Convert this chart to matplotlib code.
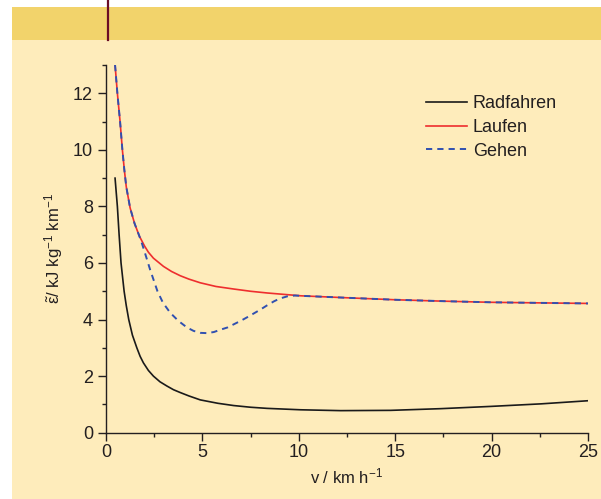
import matplotlib
matplotlib.use("Agg")
import matplotlib.pyplot as plt
from matplotlib.patches import Rectangle
from matplotlib.lines import Line2D
from matplotlib.ticker import MultipleLocator

# ---- data ----
v_rad = [0.47, 0.53, 0.59, 0.68, 0.78, 0.94, 1.05, 1.18, 1.37, 1.6, 1.77, 1.94,
         2.2, 2.46, 2.8, 3.16, 3.5, 3.85, 4.3, 4.89, 5.8, 6.62, 7.5, 8.36, 10.1,
         12.17, 14.77, 17.37, 19.97, 22.57, 25.0]
e_rad = [9.0, 8.5, 8.0, 7.0, 6.0, 5.0, 4.5, 4.0, 3.45, 3.0, 2.7, 2.47,
         2.2, 2.0, 1.8, 1.65, 1.52, 1.42, 1.3, 1.16, 1.04, 0.96, 0.9, 0.86, 0.81,
         0.78, 0.79, 0.85, 0.93, 1.02, 1.13]

v_lauf = [0.47, 0.53, 0.59, 0.66, 0.73, 0.79, 0.85, 0.95, 1.05, 1.25, 1.48,
          1.73, 2.0, 2.2, 2.46, 2.98, 3.4, 3.85, 4.3, 4.89, 5.7, 6.62, 7.5, 8.36,
          10.1, 12.5, 15.0, 17.5, 20.0, 22.5, 25.0]
e_lauf = [13.0, 12.5, 12.0, 11.5, 11.0, 10.5, 10.0, 9.3, 8.7, 7.95, 7.4,
          6.95, 6.6, 6.38, 6.17, 5.88, 5.7, 5.55, 5.43, 5.3, 5.17, 5.08, 5.0, 4.94,
          4.84, 4.77, 4.70, 4.65, 4.61, 4.59, 4.57]

v_geh = [0.47, 0.53, 0.59, 0.66, 0.73, 0.79, 0.85, 0.95, 1.05, 1.25, 1.48,
         1.73, 1.85, 2.0, 2.29, 2.67, 2.95, 3.33, 3.76, 4.2, 4.54, 4.9,
         5.24, 5.6, 5.93, 6.3, 6.62, 7.0, 7.32, 7.7, 8.0, 8.35, 8.7, 9.0, 9.4,
         9.8, 10.1, 12.5, 15.0, 17.5, 20.0, 22.5, 25.0]
e_geh = [13.0, 12.5, 12.0, 11.5, 11.0, 10.5, 10.0, 9.3, 8.7, 7.95, 7.4,
         6.95, 6.72, 6.4, 5.76, 5.0, 4.6, 4.24, 3.95, 3.72, 3.6, 3.53,
         3.52, 3.56, 3.64, 3.72, 3.83, 3.96, 4.08, 4.23, 4.35, 4.5, 4.64, 4.74,
         4.82, 4.85, 4.84, 4.77, 4.70, 4.65, 4.61, 4.59, 4.57]

labels = ["Radfahren", "Laufen", "Gehen"]
x_ticks = [0, 5, 10, 15, 20, 25]
y_ticks = [0, 2, 4, 6, 8, 10, 12]

# ---- style ----
plt.rcParams['font.family'] = ['Liberation Sans', 'DejaVu Sans']
plt.rcParams['mathtext.fontset'] = 'custom'
plt.rcParams['mathtext.rm'] = 'Liberation Sans'
plt.rcParams['mathtext.it'] = 'Liberation Sans'
plt.rcParams['mathtext.bf'] = 'Liberation Sans:bold'

TXT = '#231f20'
CREAM = '#feecbb'
BAND = '#f2d36b'
W, H = 601, 499

fig = plt.figure(figsize=(W / 100, H / 100), dpi=100, facecolor='white')
fig.patches.append(Rectangle((12 / W, 0), 1, (H - 40) / H, transform=fig.transFigure,
                             facecolor=CREAM, edgecolor='none', zorder=-10))
fig.patches.append(Rectangle((12 / W, (H - 40) / H), 1, 33 / H, transform=fig.transFigure,
                             facecolor=BAND, edgecolor='none', zorder=-9))
fig.lines.append(Line2D([107.5 / W, 107.5 / W], [(H - 40) / H, 1], transform=fig.transFigure,
                        color='#6b0d25', lw=1.6, zorder=-8))

ax = fig.add_axes([106 / W, (H - 432.7) / H, 482 / W, 367.7 / H])
ax.set_facecolor('none')

ax.plot(v_rad, e_rad, color='#1a1a1a', lw=1.2, label=labels[0], zorder=3)
ax.plot(v_lauf, e_lauf, color='#ee2e2e', lw=1.2, label=labels[1], zorder=3)
ax.plot(v_geh, e_geh, color='#3050b0', lw=1.4, ls=(0, (3.2, 2.6)), label=labels[2], zorder=4)

ax.set_xlim(0, 25)
ax.set_ylim(0, 13)
ax.set_xticks(x_ticks)
ax.set_yticks(y_ticks)
ax.xaxis.set_minor_locator(MultipleLocator(2.5))
ax.yaxis.set_minor_locator(MultipleLocator(1))

for s in ['top', 'right']:
    ax.spines[s].set_visible(False)
for s in ['left', 'bottom']:
    ax.spines[s].set_color(TXT)
    ax.spines[s].set_linewidth(1.0)

ax.tick_params(which='major', direction='out', length=5.8, width=1.0, color=TXT,
               labelcolor=TXT, labelsize=13)
ax.tick_params(which='minor', direction='out', length=2.9, width=1.0, color=TXT)
ax.tick_params(axis='x', which='major', pad=2.4)
ax.tick_params(axis='y', which='major', pad=3.5)

ax.set_xlabel(r'v / km h$^{-1}$', fontsize=12, color=TXT, labelpad=4)
ax.set_ylabel(r'$\tilde{\varepsilon}$/ kJ kg$^{-1}$ km$^{-1}$', fontsize=12, color=TXT,
              labelpad=6)

leg = ax.legend(loc='upper left', bbox_to_anchor=(426 / W, 1 - 95 / H),
                bbox_transform=fig.transFigure, frameon=False, fontsize=13,
                handlelength=2.27, handletextpad=0.33, labelspacing=0.38,
                borderpad=0, borderaxespad=0)
for t in leg.get_texts():
    t.set_color(TXT)

fig.savefig('out.png', dpi=100, facecolor='white')
